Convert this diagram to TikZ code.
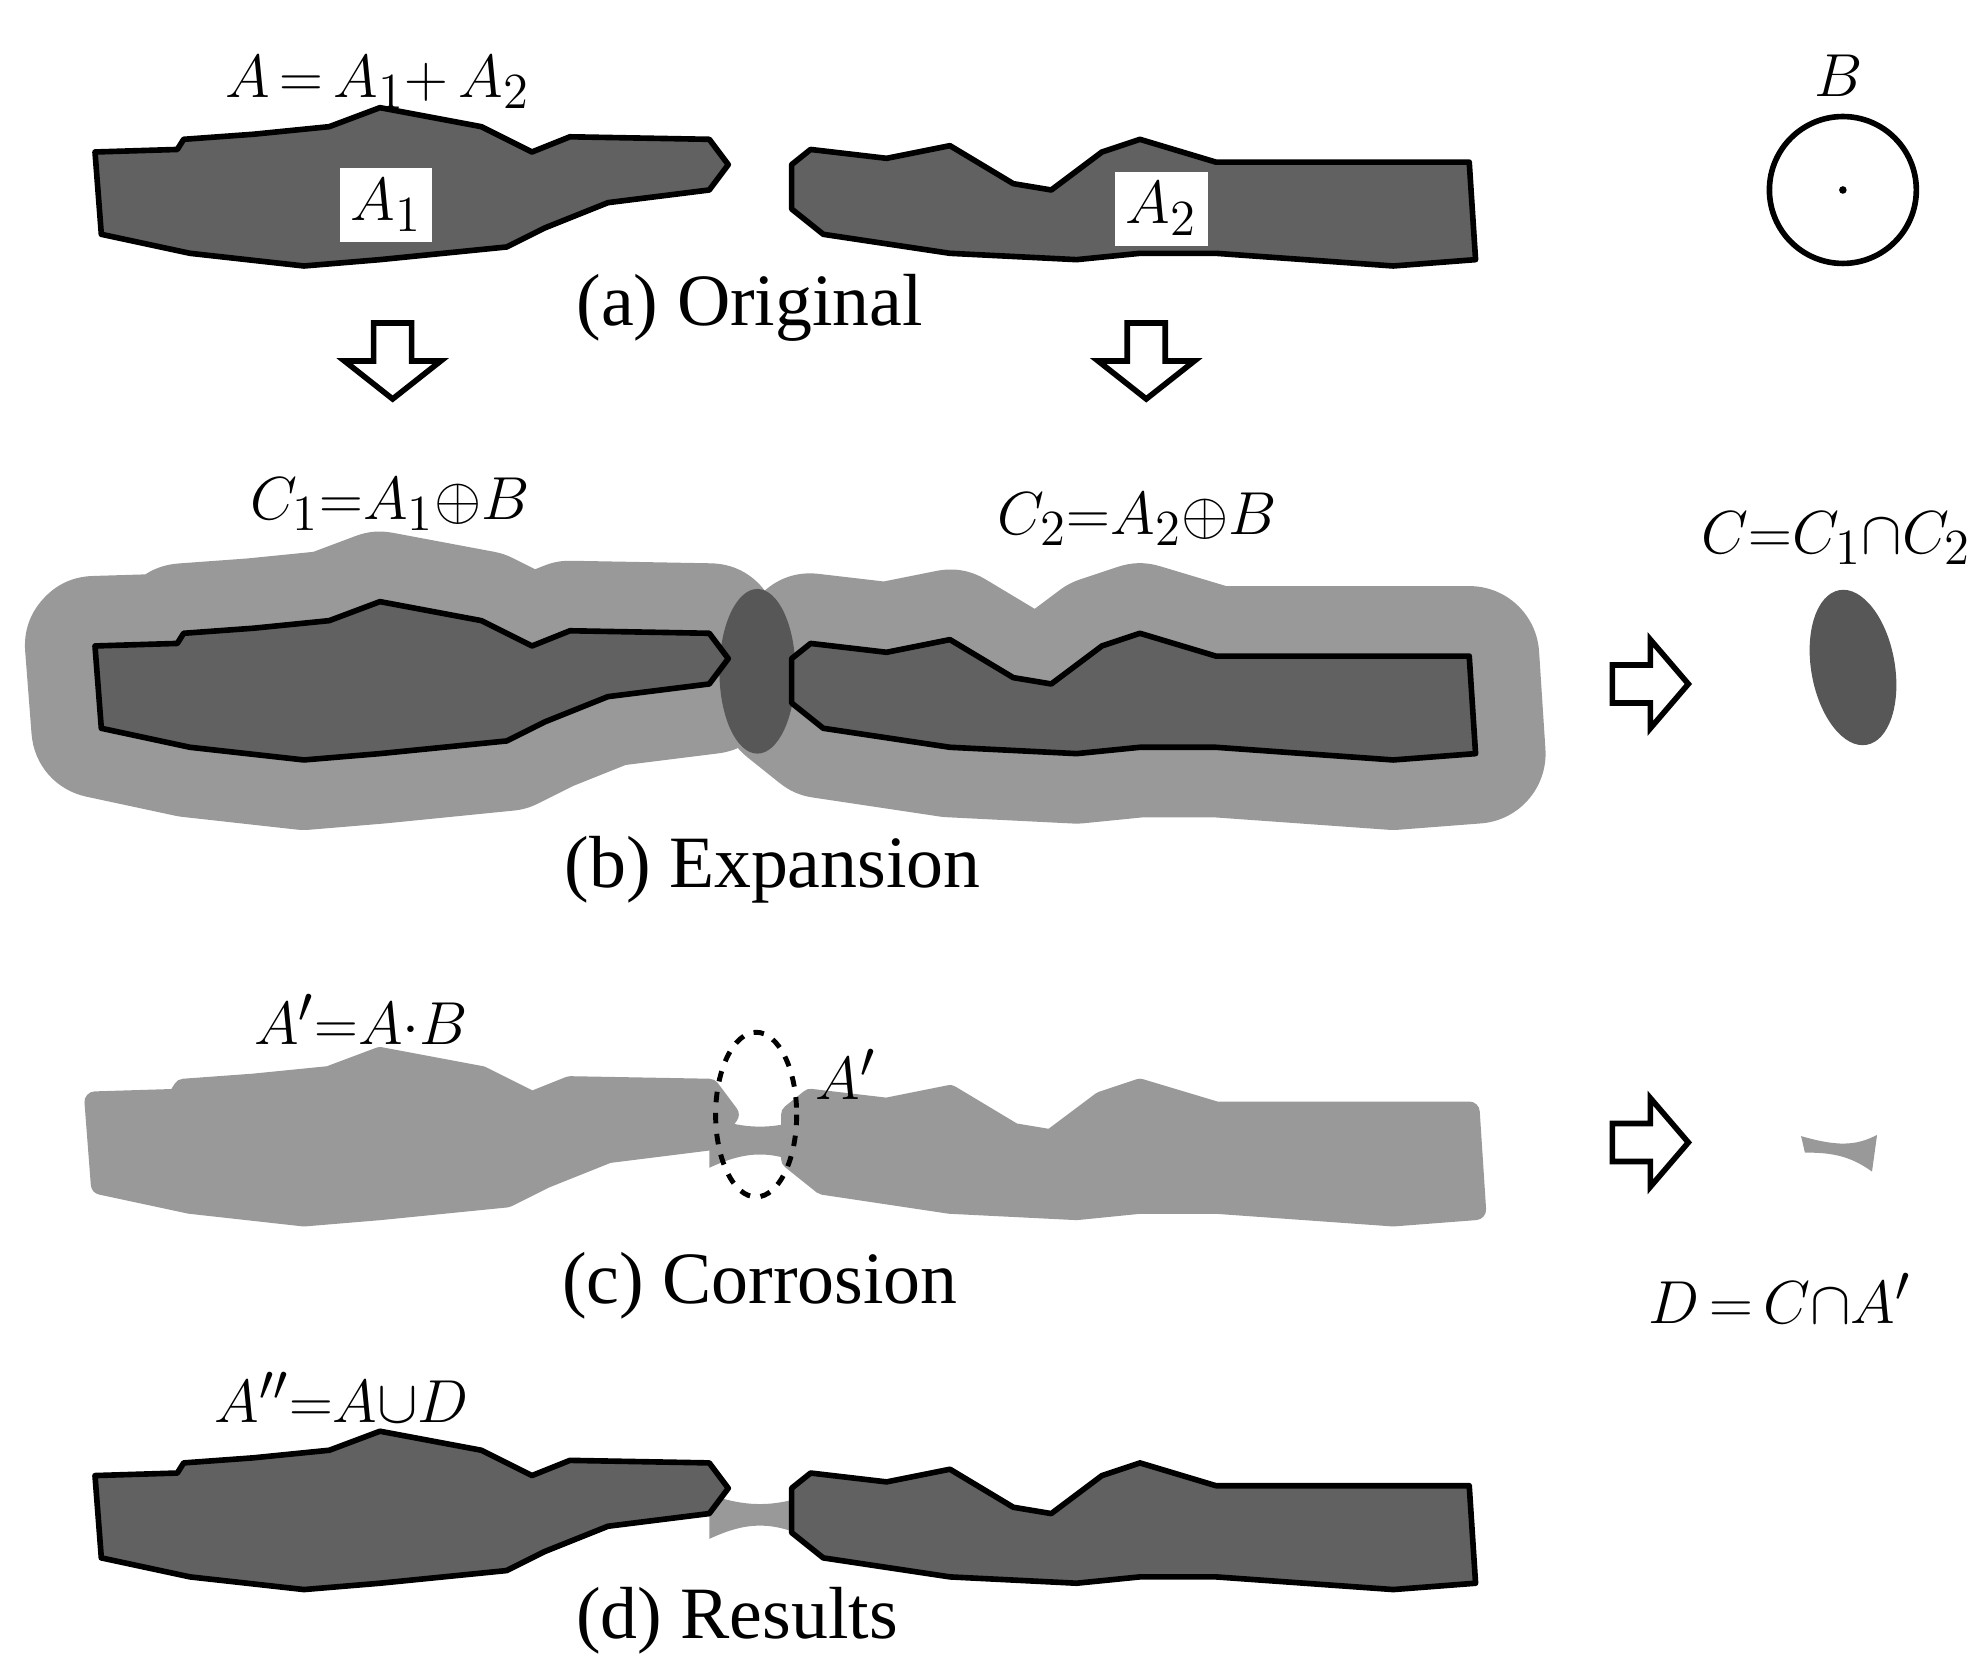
\documentclass[tikz,border=0pt]{standalone}
\usepackage{fontspec}
\setmainfont{Liberation Serif}
\begin{document}
\begin{tikzpicture}[x=0.01267cm,y=-0.01267cm,
  lab/.style={font=\fontsize{19}{22}\selectfont},
  captxt/.style={font=\fontsize{21}{24}\selectfont},
  dark/.style={fill=black!62,draw=black,line width=1.6pt,line join=round},
  halo/.style={fill=black!40,draw=black!40,line width=1.4cm,line join=round},
  blk/.style={fill=white,draw=black,line width=1.6pt,line join=miter}]
\useasboundingbox (0,0) rectangle (1568,1326);
\def\shapeA{(75,120) -- (140,118) -- (145,110) -- (200,106) -- (260,100) -- (300,85) -- (380,100) -- (420,120) -- (450,108) -- (560,110) -- (575,130) -- (560,150) -- (480,160) -- (430,180) -- (400,195) -- (300,205) -- (240,210) -- (150,200) -- (80,185) -- cycle}
\def\shapeB{(625,130) -- (640,118) -- (700,125) -- (750,115) -- (800,145) -- (830,150) -- (870,120) -- (900,110) -- (960,128) -- (1160,128) -- (1165,205) -- (1100,210) -- (960,200) -- (900,200) -- (850,205) -- (750,200) -- (650,185) -- (625,165) -- cycle}
\def\dnarr#1#2{\draw[blk] (#1-15,#2-30) -- (#1+15,#2-30) -- (#1+15,#2) -- (#1+38,#2) -- (#1,#2+30) -- (#1-38,#2) -- (#1-15,#2) -- cycle;}
\def\rtarr#1#2{\draw[blk] (#1-30,#2-15) -- (#1-30,#2+15) -- (#1,#2+15) -- (#1,#2+35) -- (#1+30,#2) -- (#1,#2-35) -- (#1,#2-15) -- cycle;}
% row a
\draw[dark] \shapeA;
\draw[dark] \shapeB;
\node[lab,fill=white,inner sep=3pt] (a1) at (305,162) {$A_1$};
\node[lab,fill=white,inner sep=3pt] (a2) at (917,165) {$A_2$};
\node[lab] (la) at (298,65) {$A\,{=}\,A_1{+}\,A_2$};
\node[captxt] (ca) at (592,243) {(a) Original};
\draw[line width=1.6pt] (1455,150) circle (58);
\fill (1455,150) circle (3);
\node[lab] (lb) at (1452,60) {$B$};
\dnarr{310}{285}
\dnarr{905}{285}
% row b
\begin{scope}[yshift={-390*0.01267cm}]
\draw[halo] \shapeA;
\draw[halo] \shapeB;
\fill[black!66] (598,140) ellipse (30 and 65);
\draw[dark] \shapeA;
\draw[dark] \shapeB;
\end{scope}
\node[lab] (lc1) at (308,398) {$C_1{=}A_1{\oplus}B$};
\node[lab] (lc2) at (898,410) {$C_2{=}A_2{\oplus}B$};
\node[captxt] (cb) at (610,687) {(b) Expansion};
\rtarr{1303}{540}
\fill[black!66,rotate around={10:(1463,527)}] (1463,527) ellipse (33 and 62);
\node[lab] (lc) at (1450,425) {$C{=}C_1{\cap}C_2$};
% row c
\begin{scope}[yshift={-750*0.01267cm}]
\draw[black!40,fill=black!40,line width=6pt,line join=round] \shapeA;
\draw[black!40,fill=black!40,line width=6pt,line join=round] \shapeB;
\fill[black!40] (560,132) .. controls (590,142) and (610,142) .. (640,132) -- (640,172) .. controls (610,158) and (590,158) .. (560,172) -- cycle;
\end{scope}
\draw[dashed,line width=1.4pt] (597,880) ellipse (32 and 65);
\node[lab] (lap) at (668,848) {$A'$};
\node[lab] (lapd) at (285,805) {$A'{=}A{\cdot}B$};
\node[captxt] (cc) at (600,1015) {(c) Corrosion};
\rtarr{1303}{902}
\fill[black!40] (1422,897) .. controls (1450,905) and (1465,905) .. (1482,896) -- (1478,925) .. controls (1460,912) and (1445,910) .. (1425,910) -- cycle;
\node[lab] (ld) at (1405,1025) {$D\,{=}\,C{\cap}A'$};
% row d
\begin{scope}[yshift={-1045*0.01267cm}]
\fill[black!40] (560,135) .. controls (590,145) and (610,145) .. (640,135) -- (640,170) .. controls (610,156) and (590,156) .. (560,170) -- cycle;
\draw[dark] \shapeA;
\draw[dark] \shapeB;
\end{scope}
\node[lab] (ldd) at (270,1103) {$A''{=}A{\cup}D$};
\node[captxt] (cd) at (582,1280) {(d) Results};
\end{tikzpicture}
\end{document}
